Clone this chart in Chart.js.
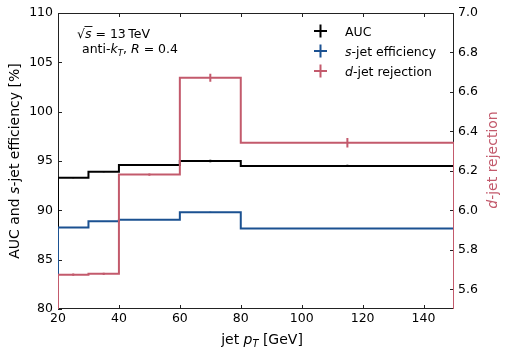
<!DOCTYPE html>
<html>
<head>
<meta charset="utf-8">
<script src="https://cdn.jsdelivr.net/npm/chart.js@4"></script>
<style>
  html, body { margin: 0; padding: 0; background: #fff; }
  #wrap { width: 508px; height: 354px; }
</style>
</head>
<body>
<div id="wrap"><canvas id="chart"></canvas></div>
<script>
// --- Data ---
const binEdges = [20, 30, 40, 60, 80, 150];
const binCenters = [25, 35, 50, 70, 115];
const aucValues = [93.3, 93.9, 94.6, 95.0, 94.5];
const aucErrors = [0.05, 0.05, 0.05, 0.12, 0.12];
const sjetValues = [88.25, 88.9, 89.05, 89.8, 88.15];
const sjetErrors = [0.03, 0.03, 0.03, 0.05, 0.05];
const djetValues = [5.674, 5.678, 6.181, 6.672, 6.343];
const djetErrors = [0.006, 0.006, 0.006, 0.02, 0.024];
const xTicks = [20, 40, 60, 80, 100, 120, 140];
const yTicks = [80, 85, 90, 95, 100, 105, 110];
const y2Ticks = [5.6, 5.8, 6.0, 6.2, 6.4, 6.6, 6.8, 7.0];

const FONT = '"DejaVu Sans", sans-serif';
const RED = '#c35a6c';
const BLUE = '#1b5191';
const BLACK = '#000000';

// step outline that starts and ends on the axis baseline, like a histogram
function stepPoints(values, base) {
    const pts = [{ x: binEdges[0], y: base }];
    values.forEach((v, i) => pts.push({ x: binEdges[i], y: v }));
    const last = binEdges[binEdges.length - 1];
    pts.push({ x: last, y: values[values.length - 1] });
    pts.push({ x: last, y: base });
    return pts;
}

// --- Text helper: mixed italic / subscript runs ---
function richWidth(ctx, parts, size) {
    let w = 0;
    parts.forEach(p => {
        const s = p.sub ? size * 0.7 : size;
        ctx.font = `${p.it ? 'italic ' : ''}${s}px ${FONT}`;
        w += ctx.measureText(p.t).width;
    });
    return w;
}

function drawRich(ctx, parts, x, y, size, align, color) {
    const w = richWidth(ctx, parts, size);
    let cx = align === 'center' ? x - w / 2 : x;
    ctx.fillStyle = color;
    ctx.textBaseline = 'alphabetic';
    ctx.textAlign = 'left';
    parts.forEach(p => {
        const s = p.sub ? size * 0.7 : size;
        ctx.font = `${p.it ? 'italic ' : ''}${s}px ${FONT}`;
        ctx.fillText(p.t, cx, p.sub ? y + size * 0.22 : y);
        cx += ctx.measureText(p.t).width;
    });
}

// --- Frame, inward ticks, error bars, titles, legend ---
const decorPlugin = {
    id: 'decor',
    beforeDatasetsDraw(chart) {
        const { ctx, chartArea: a, scales } = chart;
        ctx.save();
        ctx.strokeStyle = '#222';
        ctx.lineWidth = 1;
        ctx.strokeRect(a.left + 0.5, a.top + 0.5, a.right - a.left - 1, a.bottom - a.top - 1);
        const tl = 4;
        ctx.beginPath();
        xTicks.forEach(t => {
            const px = Math.round(scales.x.getPixelForValue(t)) + 0.5;
            ctx.moveTo(px, a.bottom); ctx.lineTo(px, a.bottom - tl);
            ctx.moveTo(px, a.top); ctx.lineTo(px, a.top + tl);
        });
        yTicks.forEach(t => {
            const py = Math.round(scales.y.getPixelForValue(t)) + 0.5;
            ctx.moveTo(a.left, py); ctx.lineTo(a.left + tl, py);
        });
        y2Ticks.forEach(t => {
            const py = Math.round(scales.y2.getPixelForValue(t)) + 0.5;
            ctx.moveTo(a.right, py); ctx.lineTo(a.right - tl, py);
        });
        ctx.stroke();
        ctx.restore();
    },
    afterDatasetsDraw(chart) {
        const { ctx, chartArea: a, scales } = chart;
        ctx.save();
        const sets = [
            [aucValues, aucErrors, scales.y, BLACK],
            [sjetValues, sjetErrors, scales.y, BLUE],
            [djetValues, djetErrors, scales.y2, RED]
        ];
        ctx.lineWidth = 2;
        sets.forEach(([vals, errs, sc, col]) => {
            ctx.strokeStyle = col;
            ctx.beginPath();
            vals.forEach((v, i) => {
                const px = scales.x.getPixelForValue(binCenters[i]);
                ctx.moveTo(px, sc.getPixelForValue(v - errs[i]));
                ctx.lineTo(px, sc.getPixelForValue(v + errs[i]));
            });
            ctx.stroke();
        });

        // axis titles
        drawRich(ctx, [{ t: 'jet ' }, { t: 'p', it: true }, { t: 'T', it: true, sub: true }, { t: ' [GeV]' }],
            262, 344, 14, 'center', '#000');

        ctx.save();
        ctx.translate(19, 161);
        ctx.rotate(-Math.PI / 2);
        drawRich(ctx, [{ t: 'AUC and ' }, { t: 's', it: true }, { t: '-jet efficiency [%]' }], 0, 0, 14, 'center', '#000');
        ctx.restore();

        ctx.save();
        ctx.translate(497, 160);
        ctx.rotate(-Math.PI / 2);
        drawRich(ctx, [{ t: 'd', it: true }, { t: '-jet rejection' }], 0, 0, 14, 'center', RED);
        ctx.restore();

        // annotation
        ctx.font = `12.5px ${FONT}`;
        ctx.fillStyle = '#000';
        ctx.textBaseline = 'alphabetic';
        ctx.fillText('\u221A', 77, 38);
        const rw = ctx.measureText('\u221A').width;
        ctx.font = `italic 12.5px ${FONT}`;
        ctx.fillText('s', 77 + rw, 38);
        const sw = ctx.measureText('s').width;
        ctx.strokeStyle = '#000';
        ctx.lineWidth = 0.9;
        ctx.beginPath();
        ctx.moveTo(77 + rw - 0.5, 26.5);
        ctx.lineTo(77 + rw + sw + 1, 26.5);
        ctx.stroke();
        drawRich(ctx, [{ t: ' = 13\u2009TeV' }], 77 + rw + sw, 38, 12.5, 'left', '#000');
        drawRich(ctx, [{ t: 'anti-' }, { t: 'k', it: true }, { t: 'T', it: true, sub: true }, { t: ', ' }, { t: 'R', it: true }, { t: ' = 0.4' }],
            82, 53, 12.5, 'left', '#000');

        // legend
        const legend = [
            [[{ t: 'AUC' }], BLACK],
            [[{ t: 's', it: true }, { t: '-jet efficiency' }], BLUE],
            [[{ t: 'd', it: true }, { t: '-jet rejection' }], RED]
        ];
        legend.forEach(([parts, col], i) => {
            const cy = 31 + i * 20;
            ctx.strokeStyle = col;
            ctx.lineWidth = 2;
            ctx.beginPath();
            ctx.moveTo(314, cy); ctx.lineTo(327, cy);
            ctx.moveTo(320.5, cy - 6.5); ctx.lineTo(320.5, cy + 6.5);
            ctx.stroke();
            drawRich(ctx, parts, 345, cy + 4.5, 12.5, 'left', '#000');
        });
        ctx.restore();
    }
};

const ctx = document.getElementById('chart');
new Chart(ctx, {
    type: 'line',
    data: {
        datasets: [
            { label: 'AUC', data: stepPoints(aucValues, 80), borderColor: BLACK, yAxisID: 'y', order: 3 },
            { label: 's-jet efficiency', data: stepPoints(sjetValues, 80), borderColor: BLUE, yAxisID: 'y', order: 2 },
            { label: 'd-jet rejection', data: stepPoints(djetValues, 5.5), borderColor: RED, yAxisID: 'y2', order: 1 }
        ]
    },
    options: {
        responsive: true,
        maintainAspectRatio: false,
        animation: false,
        layout: { padding: { top: 13, left: 0, right: 0, bottom: 0 } },
        datasets: {
            line: { stepped: 'before', borderWidth: 2, pointRadius: 0, fill: false, tension: 0 }
        },
        plugins: { legend: { display: false }, tooltip: { enabled: false } },
        scales: {
            x: {
                type: 'linear', min: 20, max: 150,
                afterBuildTicks: s => { s.ticks = xTicks.map(v => ({ value: v })); },
                afterFit: s => { s.height = 45; },
                grid: { display: false, drawTicks: false },
                border: { display: false },
                ticks: { color: '#000', font: { family: FONT, size: 12.5 }, padding: 2, maxRotation: 0 }
            },
            y: {
                position: 'left', min: 80, max: 110,
                afterBuildTicks: s => { s.ticks = yTicks.map(v => ({ value: v })); },
                afterFit: s => { s.width = 58; },
                grid: { display: false, drawTicks: false },
                border: { display: false },
                ticks: { color: '#000', font: { family: FONT, size: 12.5 }, padding: 5 }
            },
            y2: {
                position: 'right', min: 5.5, max: 7.0,
                afterBuildTicks: s => { s.ticks = y2Ticks.map(v => ({ value: v })); },
                afterFit: s => { s.width = 54; },
                grid: { display: false, drawTicks: false },
                border: { display: false },
                ticks: { color: '#000', font: { family: FONT, size: 12.5 }, padding: 4, callback: v => v.toFixed(1) }
            }
        }
    },
    plugins: [decorPlugin]
});
</script>
</body>
</html>
